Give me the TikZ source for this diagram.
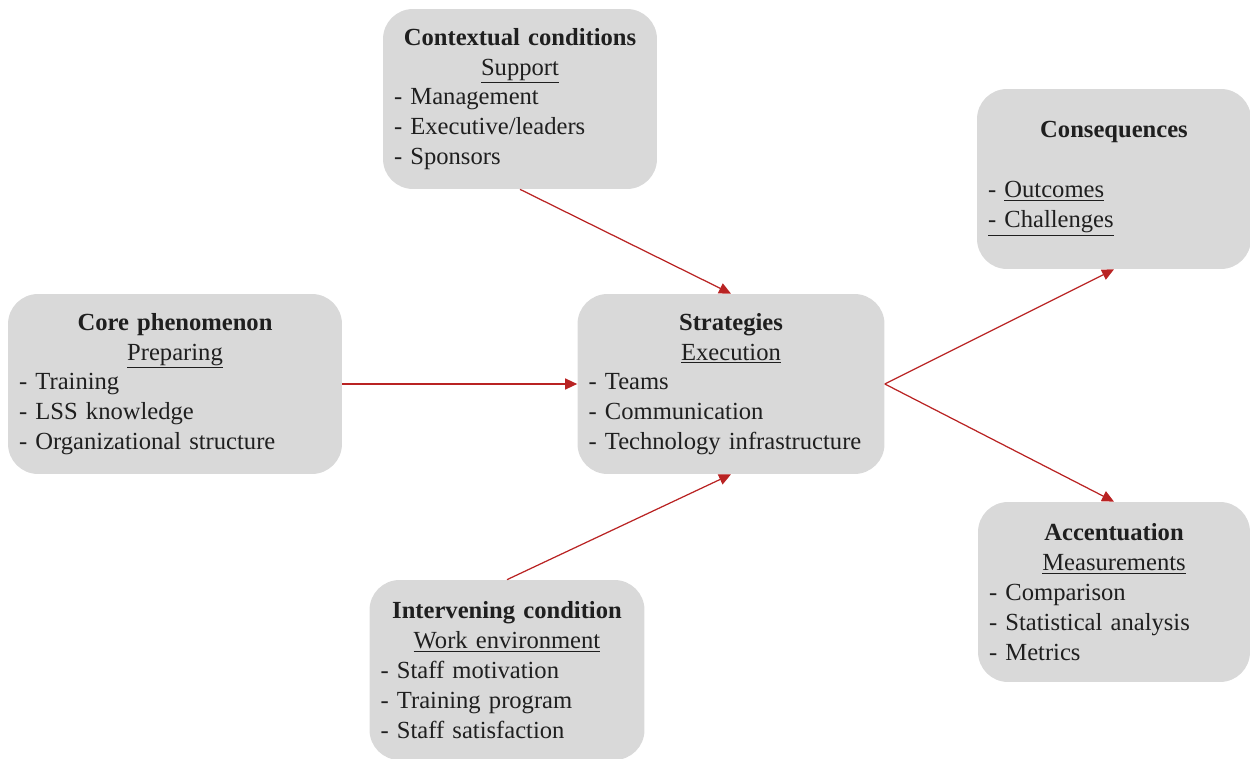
\documentclass[tikz,border=0pt]{standalone}
\usepackage{fontspec}
\setmainfont{Liberation Serif}
\usetikzlibrary{arrows.meta}
\definecolor{boxgray}{RGB}{217,217,217}
\definecolor{arrred}{RGB}{185,35,35}
\def\boxhead#1{\makebox[\linewidth]{\textbf{#1}}}
\def\boxsub#1{\makebox[\linewidth]{\underline{#1}}}

\begin{document}
\begin{tikzpicture}[x=0.02cm, y=-0.02cm,
	box/.style={rectangle, rounded corners=0.6cm, fill=boxgray, inner xsep=0.22cm, inner ysep=0pt,
		minimum height=3.6cm, text width=#1, align=left, text=black!88,
		font=\fontsize{14}{17}\selectfont},
	arr/.style={draw=arrred, line width=0.7pt, -{Triangle[length=0.24cm,width=0.22cm,fill=arrred]}}]
			%%%%% START %%%%%
			
			\useasboundingbox (0, 0) rectangle (1250, 759);
			
			\node[box=5.04cm] (ctx) at (520, 99) {\boxhead{Contextual conditions}\\ \boxsub{Support}\\ - Management\\ - Executive/leaders\\ - Sponsors};
			\node[box=5.04cm] (cons) at (1114, 179) {\boxhead{Consequences}\\[17pt] - \underline{Outcomes}\\ \underline{- Challenges}};
			\node[box=6.24cm] (core) at (175, 384) {\boxhead{Core phenomenon}\\ \boxsub{Preparing}\\ - Training\\ - LSS knowledge\\ - Organizational structure};
			\node[box=5.70cm] (strat) at (731, 384) {\boxhead{Strategies}\\ \boxsub{Execution}\\ - Teams\\ - Communication\\ - Technology infrastructure};
			\node[box=5.00cm] (acc) at (1114, 592) {\boxhead{Accentuation}\\ \boxsub{Measurements}\\ - Comparison\\ - Statistical analysis\\ - Metrics};
			\node[box=5.06cm] (inter) at (507, 670) {\boxhead{Intervening condition}\\ \boxsub{Work environment}\\ - Staff motivation\\ - Training program\\ - Staff satisfaction};
			
			\draw[arr] (ctx.south) -- (strat.north);
			\draw[arr] (core.east) -- (strat.west);
			\draw[arr] (inter.north) -- (strat.south);
			\draw[arr] (strat.east) -- (cons.south);
			\draw[arr] (strat.east) -- (acc.north);
			
			%%%%% END %%%%%
\end{tikzpicture}
\end{document}
